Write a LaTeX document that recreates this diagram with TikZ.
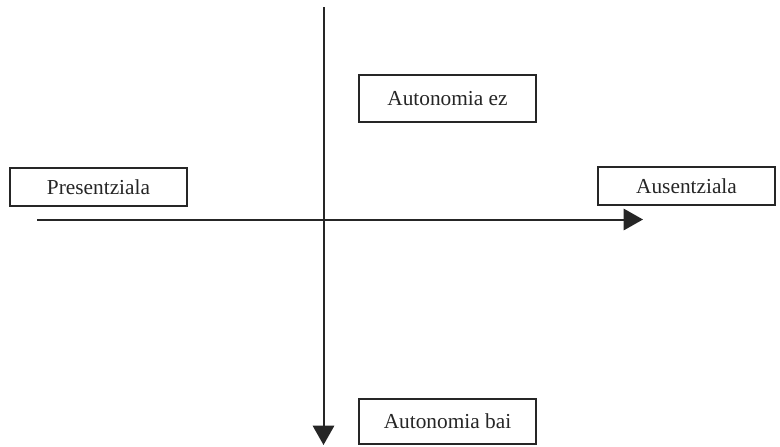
\documentclass[tikz,border=0pt]{standalone}
\usepackage{fontspec}
\setmainfont{Liberation Serif}
\usetikzlibrary{arrows.meta}
\begin{document}
\begin{tikzpicture}[x=0.75pt,y=-0.75pt,
  labelbox/.style={draw=black!85, line width=1.5pt, fill=white, inner sep=0pt,
    minimum width=132.75pt, font=\fontsize{16}{19}\selectfont, text=black!85},
  axis/.style={draw=black!85, line width=1.5pt, -{Triangle[length=14.5pt,width=16pt]}}]
\useasboundingbox (0,0) rectangle (780,446);
\coordinate (vtop) at (323.5,7);
\coordinate (vbot) at (323.5,445);
\coordinate (hl) at (37,219.5);
\coordinate (hr) at (643,219.5);
\draw[axis] (vtop) -- (vbot);
\draw[axis] (hl) -- (hr);
\node[labelbox, minimum height=28.5pt] (pres) at (98.5,187) {Presentziala};
\node[labelbox, minimum height=28.5pt] (aus) at (686.5,186) {Ausentziala};
\node[labelbox, minimum height=35.25pt] (ez) at (447.5,98.5) {Autonomia ez};
\node[labelbox, minimum height=33.75pt] (bai) at (447.5,421.5) {Autonomia bai};
\end{tikzpicture}
\end{document}
